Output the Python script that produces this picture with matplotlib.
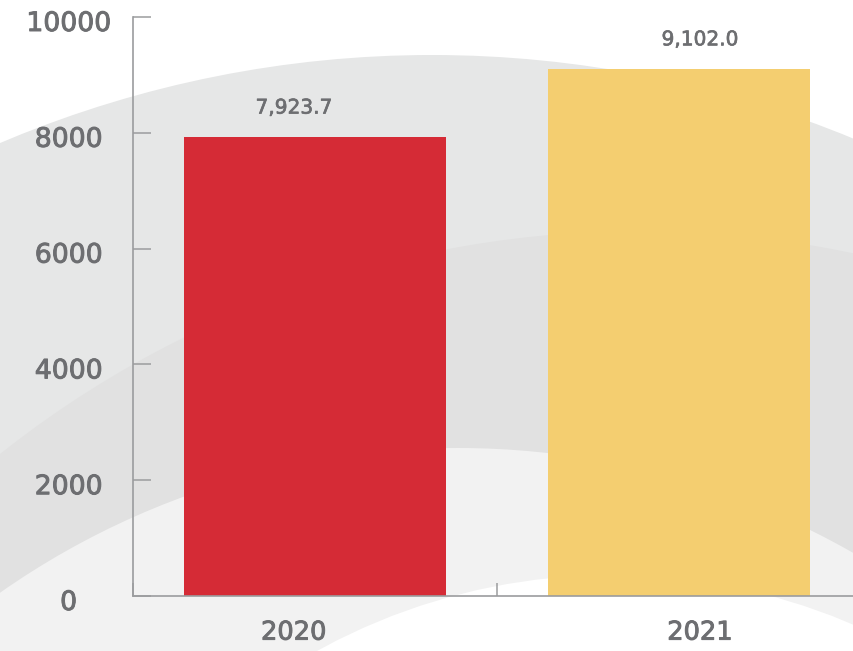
import matplotlib.pyplot as plt
import matplotlib.patheffects as pe
from matplotlib.patches import Circle
from matplotlib.transforms import ScaledTranslation

# 数据
years = ["2020", "2021"]
values = [7923.7, 9102.0]
bar_colors = ["#d52b36", "#f4ce70"]
y_ticks = [0, 2000, 4000, 6000, 8000, 10000]

text_color = "#6d6e71"
axis_color = "#9b9c9e"
plt.rcParams['font.family'] = ['DejaVu Sans']
# 字体稍加粗
bold_fx = [pe.withStroke(linewidth=0.7, foreground=text_color)]

fig = plt.figure(figsize=(8.54, 6.51), dpi=100)
fig.patch.set_facecolor("white")

# 背景的灰色圆弧 (像素坐标)
bg = fig.add_axes([0, 0, 1, 1], zorder=0)
bg.set_xlim(0, 854)
bg.set_ylim(651, 0)
bg.axis("off")
for (cx, cy), r, c in [((432, 1159), 1104, "#e6e7e7"),
                       ((640, 1261), 1030, "#e1e1e1"),
                       ((458, 1245), 797, "#f2f2f2"),
                       ((612, 1186), 611, "#ffffff")]:
    bg.add_patch(Circle((cx, cy), r, color=c, lw=0))

ax = fig.add_axes([133/854, 55/651, 728/854, 579/651], zorder=1)
ax.patch.set_alpha(0)

x = list(range(len(years)))
ax.bar(x, values, width=0.72, color=bar_colors, zorder=2)

ax.set_xlim(-0.5, len(years) - 0.5)
ax.set_ylim(0, 10000)

for s in ["top", "right"]:
    ax.spines[s].set_visible(False)
for s in ["left", "bottom"]:
    ax.spines[s].set_color(axis_color)
    ax.spines[s].set_linewidth(1.2)

# y轴刻度
ax.set_yticks(y_ticks)
ax.set_yticklabels([str(t) for t in y_ticks], ha="center")
ax.tick_params(axis="y", direction="in", length=13, width=1.1, color=axis_color,
               pad=46.4, labelsize=19.2, labelcolor=text_color)
shift = ScaledTranslation(0, -0.04, fig.dpi_scale_trans)
for lab in ax.get_yticklabels():
    lab.set_transform(lab.get_transform() + shift)
    lab.set_path_effects(bold_fx)

# x轴：分隔刻度 + 年份标签
label_x = [i + (i - 0.5) * 0.116 for i in x]
ax.set_xticks([i - 0.5 for i in range(len(years) + 1)])
ax.set_xticklabels([])
ax.tick_params(axis="x", which="major", direction="in", length=9.5, width=1.1,
               color=axis_color)
ax.set_xticks(label_x, minor=True)
ax.set_xticklabels(years, minor=True)
ax.tick_params(axis="x", which="minor", length=0, pad=17, labelsize=18.5,
               labelcolor=text_color)
for lab in ax.get_xticklabels(minor=True):
    lab.set_path_effects(bold_fx)

# 数值标签
for lx, v in zip(label_x, values):
    ax.annotate(f"{v:,.1f}", (lx, v), xytext=(0, 21), textcoords="offset points",
                ha="center", va="center", fontsize=14.5, color=text_color,
                path_effects=[pe.withStroke(linewidth=0.5, foreground=text_color)])

fig.savefig("out.png", dpi=100)
